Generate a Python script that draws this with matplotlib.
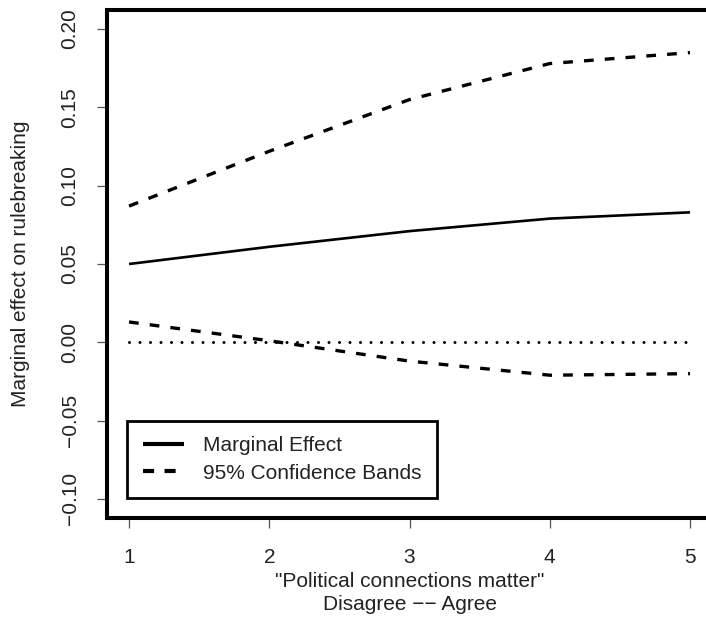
import matplotlib
matplotlib.use("Agg")
import matplotlib.pyplot as plt
from matplotlib.lines import Line2D

plt.rcParams['font.family'] = ['Liberation Sans', 'DejaVu Sans']
plt.rcParams['lines.scale_dashes'] = False

# Data
x_vals = [1, 2, 3, 4, 5]
marginal_effect = [0.050, 0.061, 0.071, 0.079, 0.083]
upper_band = [0.087, 0.122, 0.155, 0.178, 0.185]
lower_band = [0.013, 0.001, -0.012, -0.021, -0.020]
zero_line = [0, 0, 0, 0, 0]
x_ticks = [1, 2, 3, 4, 5]
y_ticks = [-0.10, -0.05, 0.00, 0.05, 0.10, 0.15, 0.20]
y_tick_labels = ["\u22120.10", "\u22120.05", "0.00", "0.05", "0.10", "0.15", "0.20"]
legend_labels = ["Marginal Effect", "95% Confidence Bands"]

TXT = '#222222'
FS = 15

fig = plt.figure(figsize=(7.06, 6.17), dpi=100)
ax = fig.add_axes([0.1510, 0.1609, 0.8581, 0.8224])

dash_style = (0, (7.0, 8.0))
ax.plot(x_vals, marginal_effect, color='black', lw=1.9, solid_capstyle='butt')
ax.plot(x_vals, upper_band, color='black', lw=2.4, linestyle=dash_style, dash_capstyle='butt')
ax.plot(x_vals, lower_band, color='black', lw=2.4, linestyle=dash_style, dash_capstyle='butt')
ax.plot(x_vals, zero_line, color='black', lw=2.2, linestyle=(0, (0.01, 7.55)), dash_capstyle='round')

ax.set_xlim(0.84, 5.16)
ax.set_ylim(-0.112, 0.212)
ax.set_xticks(x_ticks)
ax.set_xticklabels([str(v) for v in x_ticks])
ax.set_yticks(y_ticks)
ax.set_yticklabels(y_tick_labels, rotation=90, va='center')

for s in ax.spines.values():
    s.set_linewidth(2.9)
    s.set_color('black')

ax.tick_params(axis='both', direction='out', length=7.5, width=0.9, color='#555555',
               labelsize=FS, labelcolor=TXT)
ax.tick_params(axis='x', pad=14)
ax.tick_params(axis='y', pad=12)

ax.set_xlabel('"Political connections matter"\nDisagree \u2212\u2212 Agree', fontsize=FS,
              color=TXT, labelpad=4, linespacing=1.28)
ax.set_ylabel('Marginal effect on rulebreaking', fontsize=FS, color=TXT, labelpad=22)

handles = [Line2D([], [], color='black', lw=3.0, solid_capstyle='butt'),
           Line2D([], [], color='black', lw=3.0, linestyle=(0, (8.0, 7.5)), dash_capstyle='butt')]
leg = ax.legend(handles, legend_labels, loc='upper left',
                bbox_to_anchor=(0.985, -0.05), bbox_transform=ax.transData,
                fontsize=FS, frameon=True, fancybox=False, borderpad=0.75,
                handlelength=2.0, handletextpad=0.9, labelspacing=0.4,
                borderaxespad=0)
for t in leg.get_texts():
    t.set_color(TXT)
fr = leg.get_frame()
fr.set_edgecolor('black')
fr.set_linewidth(2.0)
fr.set_facecolor('white')
fr.set_alpha(1)

fig.savefig('out.png', dpi=100)
